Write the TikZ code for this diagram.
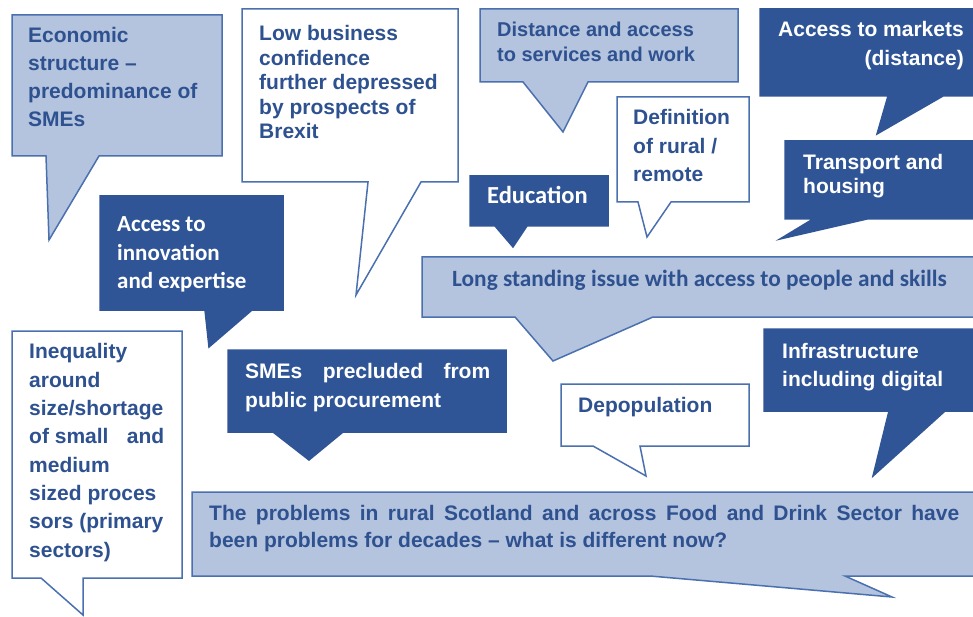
\documentclass[tikz,border=0pt]{standalone}
\usepackage{fontspec}
\setmainfont{Liberation Sans}
\newfontfamily\calfont{Carlito}
\usepackage{tikz}

\definecolor{bubbledeep}{HTML}{2F5597}
\definecolor{bubblepale}{HTML}{B4C3DE}
\definecolor{bubbleline}{HTML}{4A70B0}
\definecolor{textblue}{HTML}{2E5190}

\newcommand{\fs}[2]{\fontsize{#1}{#2}\selectfont}

% texts are placed by the baseline of their last line
\tikzset{
  pale/.style={draw=bubbleline, fill=bubblepale, line width=1.5pt, line join=miter},
  plain/.style={draw=bubbleline, fill=white, line width=1.5pt, line join=miter},
  deep/.style={draw=bubbledeep, fill=bubbledeep, line width=1.5pt},
  txt/.style={anchor=base west, inner sep=0pt, align=left, text=textblue, font=\bfseries\fs{21}{28}},
  wtxt/.style={txt, text=white},
}

\begin{document}
\begin{tikzpicture}[x=1pt,y=-1pt]
\useasboundingbox (0,0) rectangle (973,617);

% bubbles, left column
\draw[pale] (12,15) -- (222,15) -- (222,156) -- (99,156) -- (49,240) -- (46,156) -- (12,156) -- cycle;
\draw[deep] (100,196) -- (283,196) -- (283,310) -- (252,310) -- (209,347) -- (205,310) -- (100,310) -- cycle;
\draw[plain] (12,331) -- (182,331) -- (182,578) -- (83,578) -- (83,615) -- (41,578) -- (12,578) -- cycle;

% bubbles, middle
\draw[plain] (242,9) -- (458,9) -- (458,182) -- (421,182) -- (356,295) -- (368,182) -- (242,182) -- cycle;
\draw[pale] (480,9) -- (738,9) -- (738,82) -- (588,82) -- (563,132) -- (523,82) -- (480,82) -- cycle;
\draw[plain] (617,97) -- (749,97) -- (749,202) -- (671,202) -- (647,237) -- (638,202) -- (617,202) -- cycle;
\draw[deep] (470,176) -- (608,176) -- (608,226) -- (527,226) -- (513,247) -- (495,226) -- (470,226) -- cycle;
\draw[deep] (228,350) -- (506,350) -- (506,432) -- (343,432) -- (309,460) -- (273,432) -- (228,432) -- cycle;
\draw[plain] (561,384) -- (749,384) -- (749,446) -- (640,446) -- (646,476) -- (593,446) -- (561,446) -- cycle;

% bubbles, right column (cut at the edge)
\draw[deep] (760,9) -- (980,9) -- (980,96) -- (943,96) -- (877,134) -- (888,96) -- (760,96) -- cycle;
\draw[deep] (785,141) -- (980,141) -- (980,219) -- (867,219) -- (780,239) -- (813,219) -- (785,219) -- cycle;
\draw[deep] (764,329) -- (980,329) -- (980,411) -- (945,411) -- (873,476) -- (889,411) -- (764,411) -- cycle;

% wide bubbles
\draw[pale] (422,257) -- (980,257) -- (980,317) -- (653,317) -- (553,361) -- (515,317) -- (422,317) -- cycle;
\draw[pale] (192,492) -- (980,492) -- (980,576) -- (845,576) -- (892,597) -- (650,576) -- (192,576) -- cycle;

% texts
\node[txt] (econ) at (28,127) {Economic\\structure –\\predominance of\\SMEs};
\node[txt, font=\bfseries\fs{21}{24.5}] (lowbiz) at (259,139) {Low business\\confidence\\further depressed\\by prospects of\\Brexit};
\node[txt, font=\bfseries\fs{20}{25}] (distance) at (497,62) {Distance and access\\to services and work};
\node[wtxt, anchor=base east, align=right, font=\bfseries\fs{21}{29}] (markets) at (964,66) {Access to markets\\(distance)};
\node[txt, font=\bfseries\fs{21}{28.5}] (rural) at (633,182) {Definition\\of rural /\\remote};
\node[wtxt, font=\calfont\bfseries\fs{24.5}{28}] (educ) at (487,204) {Education};
\node[wtxt, font=\bfseries\fs{21}{24}] (transport) at (803,194) {Transport and\\housing};
\node[wtxt, font=\calfont\bfseries\fs{23}{28}] (innov) at (117,288) {Access to\\innovation\\and expertise};
\node[txt, font=\calfont\bfseries\fs{23.3}{28}] (skills) at (452,287) {Long standing issue with access to people and skills};
\node[txt, font=\bfseries\fs{21}{28.3}] (inequal) at (29,557) {Inequality\\around\\size/shortage\\\makebox[135pt][l]{of small\hfill and}\\medium\\sized proces\\sors (primary\\sectors)};
\node[wtxt, font=\bfseries\fs{21}{29}] (procure) at (245,407) {\makebox[245pt][s]{SMEs precluded from}\\public procurement};
\node[txt] (depop) at (578,412) {Depopulation};
\node[wtxt] (infra) at (782,386) {Infrastructure\\including digital};
\node[txt, font=\bfseries\fs{21}{27}] (decades) at (209,547) {\makebox[750pt][s]{The problems in rural Scotland and across Food and Drink Sector have}\\been problems for decades – what is different now?};

\end{tikzpicture}
\end{document}
